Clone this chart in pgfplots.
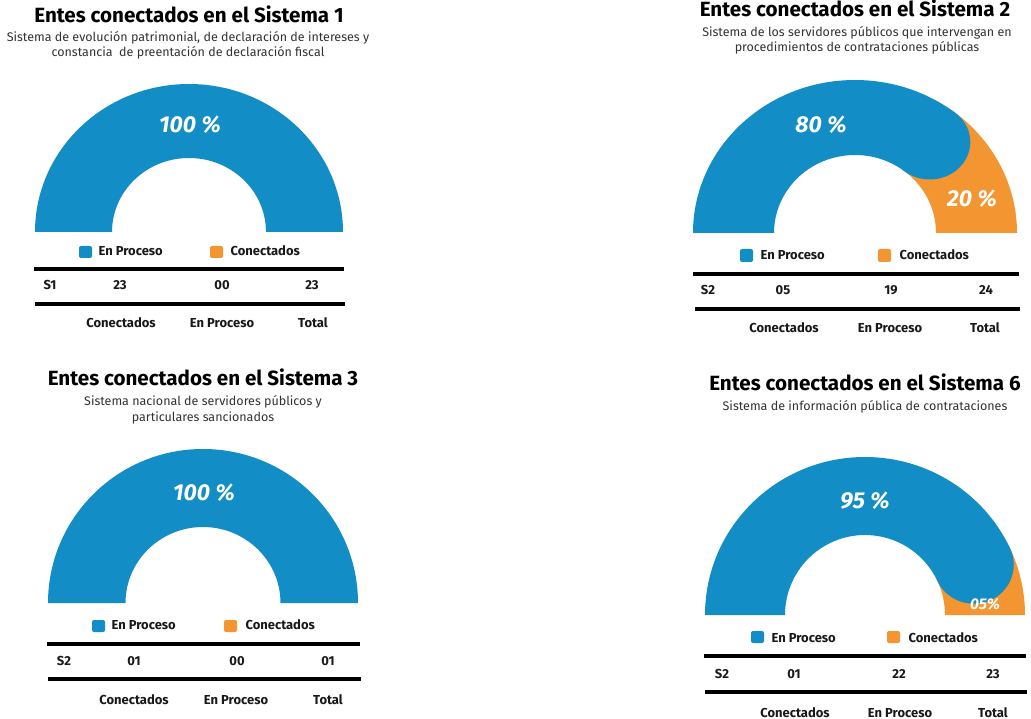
\documentclass[border=0pt]{standalone}
\usepackage{pgfplots}
\pgfplotsset{compat=1.18}
\usepackage{pgfplotstable}
\usepackage{fontspec}
\setmainfont{Fira Sans}
\definecolor{cblue}{HTML}{138DC5}
\definecolor{corange}{HTML}{F39530}
\definecolor{subgray}{HTML}{333333}

\pgfplotstableread{
sys con pro tot pct
1 23 00 23 100
2 05 19 24 80
3 01 00 01 100
6 01 22 23 95
}\gauges

% band of a half ring between angles #2 and #3
\newcommand\band[7]{%
  \fill[#1] (axis cs:{#4*cos(#2)},{#5*sin(#2)}) arc[start angle=#2,end angle=#3,x radius=#4pt,y radius=#5pt]
     -- (axis cs:{#6*cos(#3)},{#7*sin(#3)}) arc[start angle=#3,end angle=#2,x radius=#6pt,y radius=#7pt] -- cycle;}

% #1 x, #2 y (image), #3 row, #4 Rx, #5 Ry, #6 rx, #7 ry
\newcommand\gaugeaxis[7]{%
\pgfplotstablegetelem{#3}{pct}\of\gauges
\pgfmathsetmacro\gp{\pgfplotsretval}%
\pgfmathsetmacro\gth{180-1.8*\gp+16}%
\pgfmathsetmacro\gmx{(#4+#6)/2}%
\pgfmathsetmacro\gmy{(#5+#7)/2}%
\pgfmathsetmacro\gcx{(#4-#6)/2}%
\pgfmathsetmacro\gcy{(#5-#7)/2}%
\begin{axis}[at={(#1,-#2)}, anchor=south, hide axis, x=1pt, y=1pt,
  xmin=-170, xmax=170, ymin=0, ymax=170, clip=false]
\ifdim\gp pt<99.5pt
 \band{corange}{\gth}{0}{#4}{#5}{#6}{#7}
 \band{cblue}{180}{\gth}{#4}{#5}{#6}{#7}
 \fill[cblue] (axis cs:{\gmx*cos(\gth)},{\gmy*sin(\gth)}) ellipse[x radius=\gcx pt, y radius=\gcy pt];
\else
 \band{cblue}{180}{0}{#4}{#5}{#6}{#7}
\fi
\end{axis}}

\newcommand\tval[2]{\pgfplotstablegetelem{#1}{#2}\of\gauges\pgfplotsretval}

\begin{document}
\begin{tikzpicture}[x=1pt,y=1pt,
  ttl/.style={anchor=base, font=\bfseries\fontsize{20.6}{20.6}\selectfont, text=black},
  sub/.style={anchor=base, font=\fontsize{12.5}{12.5}\selectfont, text=subgray},
  pct/.style={anchor=base, font=\bfseries\itshape\fontsize{23}{23}\selectfont, text=white},
  lg/.style={anchor=base west, font=\bfseries\fontsize{13}{13}\selectfont, text=black!90},
  tb/.style={anchor=base, font=\bfseries\fontsize{13}{13}\selectfont, text=black!90},
  rl/.style={line width=4pt, black}]
\fill[white] (0,0) rectangle (1031,-719);
\path[use as bounding box] (0,0) rectangle (1031,-719);

% ---------------- Panel 1 ----------------
\gaugeaxis{189}{232}{0}{154}{148}{77}{74}
\node[ttl] at (189,-23) {Entes conectados en el Sistema 1};
\node[sub] at (188,-42) {Sistema de evolución patrimonial, de declaración de intereses y};
\node[sub] at (188,-57) {constancia \ de preentación de declaración fiscal};
\node[pct] at (190,-133) {100 \%};
\fill[cblue, rounded corners=2pt] (79,-246) rectangle (92,-258);
\node[lg] at (95,-256) {En Proceso};
\fill[corange, rounded corners=2pt] (210,-246) rectangle (223,-258);
\node[lg] at (227,-256) {Conectados};
\draw[rl] (34,-269) -- (344,-269);
\draw[rl] (35,-304) -- (345,-304);
\node[tb] at (50,-290) {S1};
\node[tb] at (120,-290) {\tval{0}{con}};
\node[tb] at (222,-290) {\tval{0}{pro}};
\node[tb] at (312,-290) {\tval{0}{tot}};
\node[tb] at (121,-327) {Conectados};
\node[tb] at (222,-327) {En Proceso};
\node[tb] at (313,-327) {Total};

% ---------------- Panel 2 ----------------
\gaugeaxis{855}{233}{1}{162}{153}{81}{78}
\node[ttl] at (855,-17) {Entes conectados en el Sistema 2};
\node[sub] at (857,-37) {Sistema de los servidores públicos que intervengan en};
\node[sub] at (857,-52) {procedimientos de contrataciones públicas};
\node[pct] at (821,-133) {80 \%};
\node[pct] at (972,-207) {20 \%};
\fill[cblue, rounded corners=2pt] (740,-249) rectangle (753,-262);
\node[lg] at (757,-260) {En Proceso};
\fill[corange, rounded corners=2pt] (878,-249) rectangle (891,-262);
\node[lg] at (896,-260) {Conectados};
\draw[rl] (693,-274.5) -- (1019,-274.5);
\draw[rl] (695,-309) -- (1020,-309);
\node[tb] at (708,-295) {S2};
\node[tb] at (783,-295) {\tval{1}{con}};
\node[tb] at (891,-295) {\tval{1}{pro}};
\node[tb] at (986,-295) {\tval{1}{tot}};
\node[tb] at (784,-333) {Conectados};
\node[tb] at (890,-333) {En Proceso};
\node[tb] at (985,-333) {Total};

% ---------------- Panel 3 ----------------
\gaugeaxis{203}{603}{2}{155}{154}{77.5}{76}
\node[ttl] at (203,-385) {Entes conectados en el Sistema 3};
\node[sub] at (203,-405) {Sistema nacional de servidores públicos y};
\node[sub] at (203,-421) {particulares sancionados};
\node[pct] at (204,-500) {100 \%};
\fill[cblue, rounded corners=2pt] (92,-620) rectangle (105,-632);
\node[lg] at (108,-629) {En Proceso};
\fill[corange, rounded corners=2pt] (224,-620) rectangle (237,-632);
\node[lg] at (242,-629) {Conectados};
\draw[rl] (47,-644) -- (360,-644);
\draw[rl] (48,-679) -- (361,-679);
\node[tb] at (64,-665) {S2};
\node[tb] at (134,-665) {\tval{2}{con}};
\node[tb] at (237,-665) {\tval{2}{pro}};
\node[tb] at (328,-665) {\tval{2}{tot}};
\node[tb] at (134,-704) {Conectados};
\node[tb] at (236,-704) {En Proceso};
\node[tb] at (328,-704) {Total};

% ---------------- Panel 4 ----------------
\gaugeaxis{865}{615}{3}{160}{158}{80}{80}
\node[ttl] at (865,-390) {Entes conectados en el Sistema 6};
\node[sub] at (865,-410) {Sistema de información pública de contrataciones};
\node[pct] at (865,-508) {95 \%};
\node[pct, font=\bfseries\itshape\fontsize{15.5}{15.5}\selectfont] at (985,-609) {05\%};
\fill[cblue, rounded corners=2pt] (751,-631) rectangle (764,-643);
\node[lg] at (768,-642) {En Proceso};
\fill[corange, rounded corners=2pt] (887,-631) rectangle (900,-643);
\node[lg] at (905,-642) {Conectados};
\draw[rl] (704,-656) -- (1026,-656);
\draw[rl] (705,-692) -- (1027,-692);
\node[tb] at (722,-678) {S2};
\node[tb] at (794,-678) {\tval{3}{con}};
\node[tb] at (899,-678) {\tval{3}{pro}};
\node[tb] at (993,-678) {\tval{3}{tot}};
\node[tb] at (795,-717) {Conectados};
\node[tb] at (900,-717) {En Proceso};
\node[tb] at (993,-717) {Total};
\end{tikzpicture}
\end{document}
